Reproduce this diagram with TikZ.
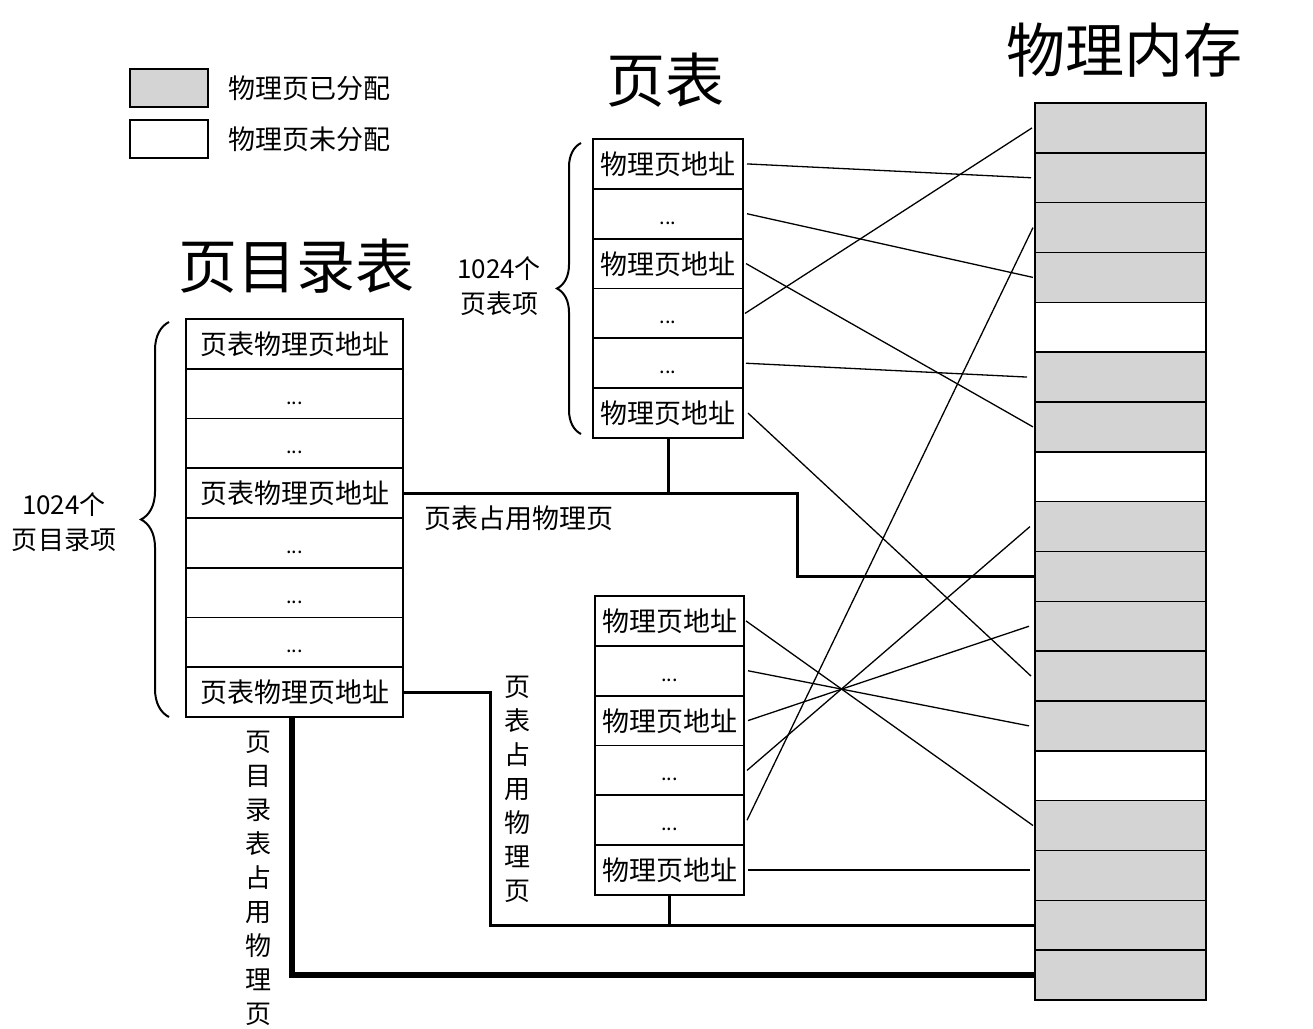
\documentclass[tikz,border=0pt]{standalone}
\usepackage{fontspec}
\setmainfont{Noto Sans CJK SC}
\usetikzlibrary{decorations.pathreplacing}
\definecolor{allocgray}{HTML}{D4D4D4}
\newcommand{\rowdots}{{\fontsize{20}{20}\selectfont ...}}
\tikzset{
  every node/.style={inner sep=0pt, outer sep=0pt},
  cellbox/.style={draw, line width=1.8pt, minimum height=49.8pt,
    font=\fontsize{27}{30}\selectfont, text height=23pt, text depth=2pt},
  pdcell/.style={cellbox, minimum width=217pt},
  ptcell/.style={cellbox, minimum width=150pt},
  memcell/.style={draw, line width=1.5pt, minimum width=171pt, minimum height=49.83pt},
  used/.style={memcell, fill=allocgray},
  free/.style={memcell, fill=white},
  keybox/.style={minimum width=78pt, minimum height=38pt},
  keytext/.style={anchor=west, font=\fontsize{27}{30}\selectfont},
  title/.style={font=\fontsize{59}{64}\selectfont},
  sidetext/.style={align=center, font=\fontsize{26}{35}\selectfont},
  stacktext/.style={align=center, font=\fontsize{26}{34}\selectfont},
  map/.style={line width=1.3pt},
  bus/.style={line width=3pt},
  heavybus/.style={line width=6pt},
  bracket/.style={decorate, line width=2pt, decoration={brace, amplitude=#1}},
}
\begin{document}
\begin{tikzpicture}[x=1pt, y=-1pt]
\fill[white] (0,0) rectangle (1313,1028);
\useasboundingbox (0,0) rectangle (1313,1028);

% legend
\node[used, keybox] (key1) at (169,88) {};
\node[keytext] (key1t) at (228,88) {物理页已分配};
\node[free, keybox] (key2) at (169,139) {};
\node[keytext] (key2t) at (228,139) {物理页未分配};

% titles
\node[title] (pdtitle) at (296.5,266) {页目录表};
\node[title] (pttitle) at (665,80) {页表};
\node[title] (memtitle) at (1124,50) {物理内存};

% physical memory column
\foreach \i/\s in {0/used,1/used,2/used,3/used,4/free,5/used,6/used,7/free,8/used,
                   9/used,10/used,11/used,12/used,13/free,14/used,15/used,16/used,17/used}
  \node[\s] (m\i) at (1120.5,{103+49.83*(\i+0.5)}) {};

% page directory
\foreach \i/\t in {1/页表物理页地址,2/\rowdots,3/\rowdots,4/页表物理页地址,
                   5/\rowdots,6/\rowdots,7/\rowdots,8/页表物理页地址}
  \node[pdcell] (d\i) at (294.5,{319+49.75*(\i-0.5)}) {\t};

% first page table
\foreach \i/\t in {1/物理页地址,2/\rowdots,3/物理页地址,4/\rowdots,5/\rowdots,6/物理页地址}
  \node[ptcell] (a\i) at (668,{139+49.83*(\i-0.5)}) {\t};

% second page table
\foreach \i/\t in {1/物理页地址,2/\rowdots,3/物理页地址,4/\rowdots,5/\rowdots,6/物理页地址}
  \node[ptcell, minimum width=149pt] (b\i) at (669.5,{596+49.83*(\i-0.5)}) {\t};

% braces and counts
\draw[bracket=28pt] (169,717) -- (169,322);
\node[sidetext] (pdcount) at (64,522) {1024个\\页目录项};
\draw[bracket=24pt] (581,434) -- (581,143);
\node[sidetext] (ptcount) at (499,286) {1024个\\页表项};

% entries of the first page table
\draw[map] ([xshift=4pt]a1.east) -- ([xshift=-4pt]m1.west);
\draw[map] ([xshift=4pt]a2.east) -- ([xshift=-2pt]m3.west);
\draw[map] ([xshift=3pt]a3.east) -- ([xshift=-2pt]m6.west);
\draw[map] ([xshift=2pt]a4.east) -- ([xshift=-3pt]m0.west);
\draw[map] ([xshift=3pt]a5.east) -- ([xshift=-8pt]m5.west);
\draw[map] ([xshift=5pt]a6.east) -- ([xshift=-4pt]m11.west);

% entries of the second page table
\draw[map] ([xshift=2pt]b1.east) -- ([xshift=-2pt]m14.west);
\draw[map] ([xshift=4pt]b2.east) -- ([xshift=-6pt]m12.west);
\draw[map] ([xshift=4pt]b3.east) -- ([xshift=-6pt]m10.west);
\draw[map] ([xshift=3pt]b4.east) -- ([xshift=-5pt]m8.west);
\draw[map] ([xshift=3pt]b5.east) -- ([xshift=-2pt]m2.west);
\draw[map] ([xshift=4pt]b6.east) -- ([xshift=-5pt]b6.east -| m15.west);

% pages holding the tables
\coordinate (turn1) at (797,494);
\coordinate (turn2) at (490,693);
\coordinate (pdfoot) at (292,717);
\draw[bus] (d4.east) -| (turn1 |- m9.west) -- (m9.west);
\draw[bus] (a6.south) -- (a6.south |- d4.east);
\draw[bus] (d8.east) -| (turn2 |- m16.west) -- (m16.west);
\draw[bus] (b6.south) -- (b6.south |- m16.west);
\draw[heavybus] (pdfoot) |- (m17.west);

\node[keytext, anchor=center] (ptpage) at (518.5,518) {页表占用物理页};
\node[stacktext] (ptpagev) at (517,789) {页\\表\\占\\用\\物\\理\\页};
\node[stacktext] (pdpagev) at (258,878.5) {页\\目\\录\\表\\占\\用\\物\\理\\页};
\end{tikzpicture}
\end{document}
